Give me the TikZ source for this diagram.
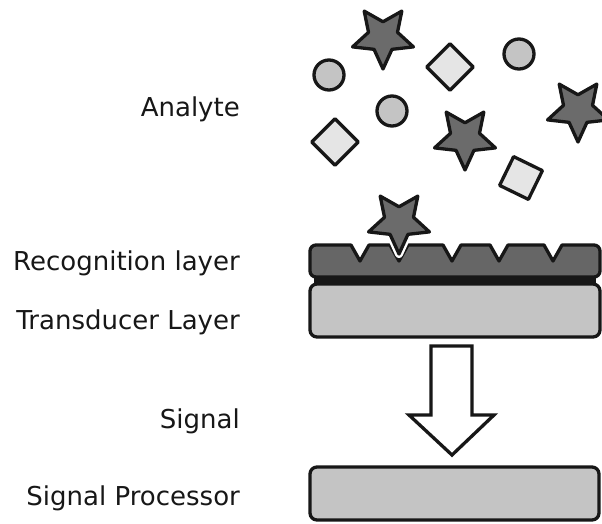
\documentclass[tikz,border=0pt]{standalone}
\usepackage{fontspec}
\setmainfont{DejaVu Sans}
\usetikzlibrary{shapes.geometric}
\definecolor{ink}{gray}{0.09}
\definecolor{starfill}{gray}{0.42}
\definecolor{dotfill}{gray}{0.77}
\definecolor{tilefill}{gray}{0.90}
\definecolor{barfill}{gray}{0.40}
\definecolor{slabfill}{gray}{0.77}
\begin{document}
\begin{tikzpicture}[x=1pt,y=-1pt,
  outline/.style={draw=ink, line width=3.3pt, line join=round},
  starshape/.style={star, star points=5, star point ratio=2.1,
    minimum size=64pt, inner sep=0pt, shape border rotate=180},
  analytestar/.style={outline, starshape, fill=starfill},
  analytedot/.style={outline, circle, minimum size=30pt, inner sep=0pt, fill=dotfill},
  analytetile/.style={outline, diamond, minimum size=48pt, inner sep=0pt, fill=tilefill},
  analytesquare/.style={outline, rectangle, minimum size=32pt, inner sep=0pt, fill=tilefill},
  slab/.style={outline, fill=slabfill, rounded corners=7pt},
  lbl/.style={anchor=base east, inner sep=0pt, text=ink,
    font=\fontsize{26}{30}\selectfont}
]
\useasboundingbox (0,0) rectangle (602,523);
\fill[white] (0,0) rectangle (602,523);

% free analyte particles
\node[analytestar] (star1) at (383,37) {};
\node[analytestar] (star2) at (578,110) {};
\node[analytestar] (star3) at (465,138) {};
\node[analytedot] (dot1) at (329,75) {};
\node[analytedot] (dot2) at (392,111) {};
\node[analytedot] (dot3) at (519,54) {};
\node[analytetile] (tile1) at (450,67) {};
\node[analytetile] (tile2) at (335,142) {};
\node[analytesquare, rotate=-26] (tile3) at (521,178) {};

% transducer layer and the dark band joining it to the recognition layer
\fill[ink] (314,274) rectangle (596,287);
\draw[slab] (310,284) rectangle (600,337);

% recognition layer with its binding notches
\draw[outline, fill=barfill]
  (310,262) [rounded corners=6pt] -- (310,245) -- (340,245) [sharp corners]
  -- (351,245) -- (360,261) -- (369,245)
  -- (390,245) -- (399,261) -- (408,245)
  -- (443,245) -- (452,261) -- (461,245)
  -- (490,245) -- (499,261) -- (508,245)
  -- (544,245) -- (553,261) -- (562,245)
  -- (575,245) [rounded corners=6pt] -- (600,245) -- (600,277) -- (310,277) -- cycle;

% bound analyte with a white halo
\node[starshape, draw=white, line width=8pt, line join=round] (halo) at (399,222) {};
\node[analytestar] (star4) at (399,222) {};

% signal arrow
\coordinate (shaftL) at (431,346);
\coordinate (shaftR) at (472,346);
\draw[outline, fill=white, line join=miter]
  (shaftL) -- (shaftR) -- (472,415) -- (494,415) -- (452,455) -- (409,415) -- (431,415) -- cycle;

% signal processor
\draw[slab] (310,467) rectangle (599,520);

% labels
\node[lbl] (lAnalyte) at (240,116) {Analyte};
\node[lbl] (lRecog) at (240,270) {Recognition layer};
\node[lbl] (lTrans) at (240,329) {Transducer Layer};
\node[lbl] (lSignal) at (240,428) {Signal};
\node[lbl] (lProc) at (240,505) {Signal Processor};
\end{tikzpicture}
\end{document}
